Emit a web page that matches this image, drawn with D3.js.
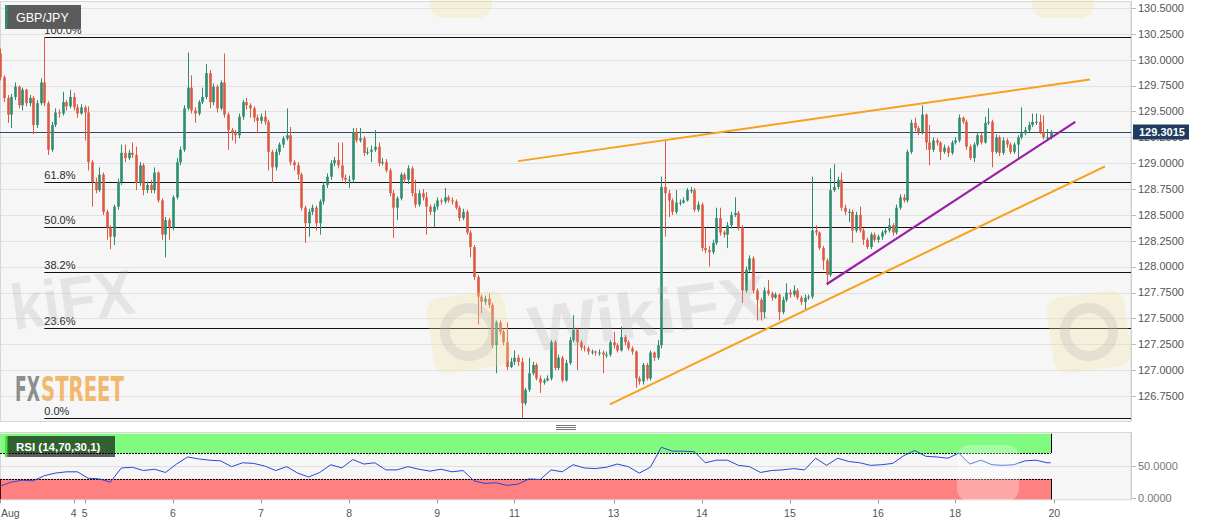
<!DOCTYPE html>
<html><head><meta charset="utf-8">
<script src="https://cdn.jsdelivr.net/npm/d3@7"></script>
<style>body{margin:0;background:#fff}svg{display:block;font-family:Arial,"Liberation Sans",sans-serif}</style>
</head><body><svg id="c" width="1207" height="526"></svg>
<script>
// ---------------- DATA ----------------
const symbol = "GBP/JPY";
const firstOpen = 130.06;
const close = [
129.83,129.63,129.47,129.64,129.74,129.56,129.71,129.58,129.63,129.37,
129.58,129.78,129.58,129.13,129.37,129.49,129.48,129.59,129.55,129.64,
129.54,129.48,129.54,129.49,129.01,128.82,128.74,128.89,128.53,128.38,
128.29,128.58,128.82,129.10,129.05,129.10,129.08,128.81,128.98,128.74,
128.79,128.74,128.91,128.64,128.31,128.45,128.38,128.67,129.01,129.13,
129.53,129.73,129.51,129.48,129.59,129.64,129.87,129.59,129.74,129.53,
129.78,129.47,129.32,129.29,129.27,129.45,129.59,129.56,129.53,129.44,
129.41,129.45,129.40,129.11,128.96,129.11,129.18,129.24,129.27,129.01,
128.98,128.89,128.57,128.42,128.53,128.57,128.42,128.63,128.79,128.87,
129.00,129.03,128.98,128.86,128.84,128.84,129.30,129.22,129.24,129.10,
129.11,129.13,129.16,129.00,129.01,128.93,128.71,128.57,128.66,128.89,
128.84,128.95,128.71,128.60,128.71,128.67,128.58,128.53,128.58,128.64,
128.63,128.67,128.64,128.63,128.57,128.47,128.53,128.33,128.19,127.90,
127.71,127.66,127.69,127.63,127.24,127.46,127.37,127.27,127.03,127.08,
127.12,127.08,126.68,126.81,126.97,127.05,126.92,126.88,126.90,126.92,
127.27,127.02,127.12,126.90,127.07,127.29,127.39,127.27,127.22,127.21,
127.18,127.18,127.17,127.17,127.15,127.15,127.27,127.24,127.19,127.32,
127.27,127.21,127.18,126.92,126.89,127.05,126.92,127.17,127.12,127.24,
128.77,128.71,128.64,128.53,128.62,128.62,128.64,128.74,128.74,128.55,
128.60,128.18,128.16,128.14,128.23,128.47,128.33,128.31,128.40,128.50,
128.52,128.38,127.77,127.97,128.08,127.77,127.68,127.56,127.77,127.74,
127.70,127.73,127.56,127.68,127.75,127.73,127.77,127.70,127.66,127.70,
127.71,128.35,128.33,128.18,128.06,127.92,128.74,128.77,128.84,128.57,
128.53,128.53,128.35,128.50,128.35,128.26,128.19,128.31,128.26,128.29,
128.33,128.35,128.40,128.33,128.57,128.67,128.64,129.11,129.39,129.34,
129.30,129.47,129.20,129.13,129.22,129.20,129.11,129.15,129.10,129.20,
129.22,129.44,129.40,129.16,129.05,129.18,129.27,129.20,129.39,129.40,
129.11,129.25,129.10,129.22,129.18,129.11,129.18,129.25,129.29,129.32,
129.37,129.40,129.40,129.30,129.25,129.25,129.3015];
const high = [
130.11,129.85,129.66,129.67,129.78,129.75,129.73,129.72,129.66,129.65,
129.61,129.82,130.22,129.60,129.40,129.53,129.52,129.69,129.61,129.71,
129.68,129.57,129.57,129.56,129.55,129.03,128.86,128.96,128.91,128.55,
128.40,128.60,128.85,129.18,129.18,129.13,129.20,129.16,129.01,129.00,
128.82,128.84,128.96,128.92,128.66,128.48,128.47,128.69,129.05,129.16,
129.56,130.07,129.85,129.54,129.61,129.73,129.96,129.90,129.77,129.76,
129.80,130.06,129.49,129.34,129.32,129.48,129.61,129.63,129.58,129.55,
129.47,129.48,129.51,129.42,129.13,129.14,129.20,129.26,129.53,129.35,
129.03,129.01,128.91,128.59,128.56,128.60,128.59,128.65,128.82,128.90,
129.03,129.06,129.20,129.20,128.89,128.88,129.34,129.34,129.34,129.26,
129.15,129.17,129.32,129.20,129.05,129.04,128.95,128.74,128.68,128.91,
128.91,128.98,128.97,128.84,128.74,128.75,128.72,128.60,128.61,128.67,
128.66,128.76,128.69,128.67,128.65,128.59,128.56,128.55,128.35,128.21,
127.92,127.73,127.72,127.74,127.65,127.48,127.48,127.39,127.46,127.12,
127.19,127.15,127.12,126.83,127.12,127.08,127.07,126.95,126.92,126.95,
127.29,127.29,127.15,127.14,127.10,127.32,127.53,127.41,127.29,127.24,
127.23,127.20,127.19,127.20,127.19,127.18,127.29,127.37,127.26,127.42,
127.34,127.29,127.23,127.19,126.94,127.07,127.07,127.19,127.18,127.29,
128.87,129.22,128.74,128.66,128.74,128.65,128.67,128.76,128.77,128.76,
128.63,128.62,128.38,128.20,128.26,128.57,128.57,128.35,128.43,128.53,
128.67,128.54,128.40,128.00,128.11,128.10,127.79,127.70,127.80,127.87,
127.76,127.75,127.74,127.71,127.84,127.78,127.82,127.79,127.72,127.73,
127.73,128.87,128.40,128.34,128.20,128.08,128.95,128.99,128.87,128.91,
128.60,128.56,128.55,128.53,128.58,128.37,128.28,128.33,128.33,128.31,
128.35,128.38,128.47,128.42,128.60,128.70,128.70,129.13,129.42,129.44,
129.36,129.56,129.48,129.37,129.25,129.24,129.21,129.18,129.17,129.22,
129.25,129.47,129.45,129.42,129.18,129.20,129.30,129.29,129.45,129.53,
129.42,129.28,129.27,129.25,129.24,129.20,129.20,129.27,129.54,129.35,
129.40,129.48,129.48,129.47,129.46,129.33,129.32];
const low = [
129.80,129.59,129.39,129.34,129.61,129.53,129.51,129.55,129.55,129.28,
129.34,129.56,129.55,129.08,129.11,129.35,129.44,129.46,129.51,129.53,
129.51,129.44,129.47,129.22,128.93,128.58,128.71,128.72,128.50,128.26,
128.17,128.21,128.55,128.79,129.01,129.03,129.05,128.74,128.78,128.69,
128.71,128.71,128.71,128.62,128.26,128.09,128.26,128.35,128.65,128.98,
129.11,129.51,129.48,129.39,129.46,129.57,129.62,129.53,129.56,129.49,
129.51,129.44,129.13,129.22,129.19,129.24,129.42,129.52,129.44,129.40,
129.29,129.38,129.37,128.93,128.81,128.93,129.08,129.15,129.22,128.98,
128.93,128.84,128.54,128.23,128.29,128.50,128.35,128.31,128.60,128.76,
128.84,128.97,128.95,128.83,128.80,128.76,128.81,129.20,129.20,129.07,
129.08,129.01,129.11,128.97,128.98,128.91,128.68,128.28,128.45,128.64,
128.81,128.80,128.68,128.57,128.58,128.64,128.31,128.50,128.38,128.55,
128.60,128.61,128.62,128.60,128.55,128.44,128.45,128.31,128.09,127.87,
127.44,127.55,127.63,127.60,127.21,126.97,127.34,127.24,127.00,127.02,
127.05,127.04,126.54,126.66,126.79,126.95,126.90,126.78,126.86,126.89,
126.90,127.00,127.00,126.88,126.89,127.05,127.27,127.00,127.19,127.18,
127.15,127.15,127.14,127.14,126.97,127.12,127.13,127.21,127.17,127.18,
127.24,127.19,127.15,126.83,126.86,126.86,126.90,126.90,127.09,127.10,
127.21,128.29,128.48,128.50,128.51,128.59,128.61,128.63,128.71,128.53,
128.53,128.15,128.13,128.00,128.12,128.21,128.30,128.28,128.18,128.37,
128.48,128.35,127.65,127.75,127.95,127.74,127.48,127.48,127.50,127.72,
127.67,127.69,127.48,127.54,127.66,127.70,127.71,127.68,127.63,127.58,
127.68,127.69,128.30,128.16,127.97,127.82,127.90,128.72,128.75,128.54,
128.50,128.43,128.23,128.33,128.33,128.21,128.17,128.17,128.24,128.23,
128.26,128.31,128.33,128.30,128.31,128.55,128.62,128.62,129.09,129.31,
129.27,129.28,129.13,128.98,129.11,129.17,129.03,129.09,129.06,129.08,
129.18,129.20,129.38,129.13,129.03,129.01,129.16,129.18,129.19,129.37,
128.96,129.09,129.07,129.08,129.15,129.09,129.09,129.05,129.23,129.27,
129.30,129.35,129.37,129.28,129.23,129.22,129.23];

const dayTickIndex = [0,20,23,47,71,95,119,140,167,191,215,239,260,287];
const dayLabels = ["Aug","4","5","6","7","8","9","11","13","14","15","16","18","20"];
const priceTicks = [126.75,127.0,127.25,127.5,127.75,128.0,128.25,128.5,128.75,129.0,129.25,129.5,129.75,130.0,130.25,130.5];
const fibHigh = 130.22, fibLow = 126.54, fibStartIndex = 12;
const fibRatios = [1, 0.618, 0.5, 0.382, 0.236, 0];
const fibLabels = ["100.0%","61.8%","50.0%","38.2%","23.6%","0.0%"];
const lastPrice = 129.3015;
const upperTrend = [[141, 129.02],[296.7, 129.81]];
const lowerTrend = [[166, 126.67],[300.8, 128.97]];
const purpleTrend = [[225, 127.83],[292.7, 129.40]];
const rsiIndex = [0,3,6,9,12,15,18,21,24,27,30,33,36,39,42,45,48,51,54,57,60,63,66,69,72,75,78,81,84,87,90,93,96,99,102,105,108,111,114,117,120,123,126,129,132,135,138,141,144,147,150,153,156,159,162,165,168,171,174,177,180,183,186,189,192,195,198,201,204,207,210,213,216,219,222,225,228,231,234,237,240,243,246,249,252,255,258,261,264,267,270,273,276,279,282,285,286];
const rsiValue = [19,25,28,27,35,39,41,41,31,30, 25,47,48,43,45,40,53,64,61,59, 58,49,55,54,50,43,49,39,33,40, 52,47,60,53,55,44,44,49,45,42, 45,41,43,27,23,24,20,22,30,29, 44,41,52,47,46,48,53,49,39,48, 79,73,73,72,55,59,59,51,49,40, 43,44,46,44,62,51,62,57,55,51, 52,54,66,74,65,64,62,70,53,59, 52,51,52,58,59,55,55];
const rsiTicks = [0, 50];
const rsiLevels = [70, 30];
const rsiLabel = "RSI (14,70,30,1)";
const brandParts = ["FX", "STREET"];
const watermarkLeft = "kiFX", watermarkMain = "WikiFX";

// ---------------- DRAW ----------------
const svg = d3.select("#c");
const W = 1207, H = 526, PR = 1131, PT = 1, PB = 421, RT = 432, RB = 499.3;
const G = "#2b8c6e", R = "#dc5a43";
const x = d3.scaleLinear().domain([0, 287]).range([0.2, 1054.35]);
const y = d3.scaleLinear().domain([126.75, 130.5]).range([396, 8]);
const yr = d3.scaleLinear().domain([0, 100]).range([498.3, 433.7]);
const snap = v => Math.round(v) + 0.5;

svg.append("rect").attr("width", W).attr("height", H).attr("fill", "#fff");
const defs = svg.append("defs");
defs.append("clipPath").attr("id", "clipMain").append("rect").attr("x", 0).attr("y", PT).attr("width", PR).attr("height", PB - PT);

// main panel
svg.append("rect").attr("x", 0.5).attr("y", PT + 0.5).attr("width", PR - 0.5).attr("height", PB - PT)
  .attr("fill", "#f6f6f6").attr("stroke", "#d6d6d6");
svg.append("g").selectAll("line").data(priceTicks).join("line")
  .attr("x1", 1).attr("x2", PR).attr("y1", d => snap(y(d))).attr("y2", d => snap(y(d)))
  .attr("stroke", "#e2e2e2");

// fib levels
const fibG = svg.append("g");
fibRatios.forEach((r, k) => {
  const v = fibLow + r * (fibHigh - fibLow);
  const yy = snap(y(v));
  fibG.append("line").attr("x1", x(fibStartIndex)).attr("x2", PR).attr("y1", yy).attr("y2", yy)
    .attr("stroke", "#111").attr("stroke-width", 1);
  fibG.append("text").attr("x", x(fibStartIndex)).attr("y", yy - 3.5).attr("font-size", 11)
    .attr("fill", "#2a2a2a").text(fibLabels[k]);
});

// FXStreet logo: size each word so its natural width fits, stretch vertically
const brandFont = "'DejaVu Sans Condensed','Liberation Sans Narrow',Roboto,Arial";
function brandWord(str, x0, targetW, color) {
  const t = svg.append("text").attr("x", 0).attr("y", 0).attr("font-family", brandFont)
    .attr("font-weight", "bold").attr("font-size", 20).attr("fill", color).text(str);
  const w = t.node().getComputedTextLength();
  const fs = 20 * targetW / w;
  t.attr("font-size", fs);
  const k = 34 / fs; // gives ~25px cap height
  t.attr("transform", `translate(${x0},401) scale(1,${k})`);
}
brandWord(brandParts[0], 15, 25, "#8d8d8d");
brandWord(brandParts[1], 41, 83, "#f2b86e");

// current price line
svg.append("line").attr("x1", 0).attr("x2", PR).attr("y1", snap(y(lastPrice))).attr("y2", snap(y(lastPrice)))
  .attr("stroke", "#2d4a6b").attr("stroke-width", 1);

// candles
const candles = close.map((c, i) => {
  const o = i === 0 ? firstOpen : close[i - 1];
  return { i, o, c, h: Math.max(high[i], o, c), l: Math.min(low[i], o, c) };
});
const cg = svg.append("g").attr("clip-path", "url(#clipMain)");
cg.selectAll("line.w").data(candles).join("line").attr("class", "w")
  .attr("x1", d => Math.round(x(d.i)) + 0.5).attr("x2", d => Math.round(x(d.i)) + 0.5)
  .attr("y1", d => y(d.h)).attr("y2", d => y(d.l))
  .attr("stroke", d => d.c >= d.o ? G : R).attr("stroke-width", 1);
cg.selectAll("rect.b").data(candles).join("rect").attr("class", "b")
  .attr("x", d => Math.round(x(d.i)) - 0.8).attr("width", 2.6)
  .attr("y", d => y(Math.max(d.o, d.c)))
  .attr("height", d => Math.max(1, Math.abs(y(d.o) - y(d.c))))
  .attr("fill", d => d.c >= d.o ? G : R);

// trend lines
const tl = d3.line().x(d => x(d[0])).y(d => y(d[1]));
const tg = svg.append("g").attr("clip-path", "url(#clipMain)");
tg.append("path").attr("d", tl(upperTrend)).attr("stroke", "#f7a11c").attr("stroke-width", 2).attr("fill", "none");
tg.append("path").attr("d", tl(lowerTrend)).attr("stroke", "#f7a11c").attr("stroke-width", 2).attr("fill", "none");
tg.append("path").attr("d", tl(purpleTrend)).attr("stroke", "#9a1ea6").attr("stroke-width", 2.2).attr("fill", "none");

// faint WikiFX watermarks
const wm = svg.append("g").attr("pointer-events", "none");
function logo(lx, ly, rot) {
  const g = wm.append("g").attr("transform", `rotate(${rot} ${lx + 39} ${ly + 38})`);
  g.append("rect").attr("x", lx).attr("y", ly).attr("width", 78).attr("height", 76).attr("rx", 14)
    .attr("fill", "#f3e0a0").attr("opacity", 0.3);
  g.append("circle").attr("cx", lx + 39).attr("cy", ly + 38).attr("r", 24).attr("fill", "none")
    .attr("stroke", "#b8b8b8").attr("stroke-width", 10).attr("opacity", 0.28);
}
function wmText(tx, ty, str, len) {
  wm.append("text").attr("transform", `rotate(-8 ${tx} ${ty})`).attr("x", tx).attr("y", ty)
    .attr("font-size", 64).attr("font-weight", "bold").attr("fill", "#a8a8a8").attr("opacity", 0.22)
    .attr("textLength", len).attr("lengthAdjust", "spacingAndGlyphs").text(str);
}
logo(430, 294, -8);
logo(1050, 294, -8);
wmText(532, 352, watermarkMain, 240);
wmText(14, 330, watermarkLeft, 124);
[[430, -58], [1032, -58]].forEach(p => wm.append("rect").attr("x", p[0]).attr("y", p[1]).attr("width", 62).attr("height", 76)
  .attr("rx", 14).attr("fill", "#f3e0a0").attr("opacity", 0.3));

// symbol label
svg.append("rect").attr("x", 5).attr("y", 5).attr("width", 76).attr("height", 24).attr("fill", "#5b5b5b");
svg.append("rect").attr("x", 5).attr("y", 5).attr("width", 2.5).attr("height", 24).attr("fill", "#2e8f70");
svg.append("text").attr("x", 16).attr("y", 22).attr("font-size", 12.5).attr("fill", "#fff").text(symbol);

// right axis (main)
const ax = svg.append("g");
ax.append("line").attr("x1", PR + 0.5).attr("x2", PR + 0.5).attr("y1", PT).attr("y2", PB).attr("stroke", "#cfcfcf");
priceTicks.forEach(t => {
  ax.append("line").attr("x1", PR).attr("x2", PR + 5).attr("y1", snap(y(t))).attr("y2", snap(y(t))).attr("stroke", "#bdbdbd");
  ax.append("text").attr("x", 1138).attr("y", y(t) + 3.8).attr("font-size", 11).attr("fill", "#555").text(t.toFixed(4));
});
svg.append("rect").attr("x", 1133).attr("y", y(lastPrice) - 7.5).attr("width", 56).attr("height", 15).attr("fill", "#1f3c5e");
svg.append("text").attr("x", 1139).attr("y", y(lastPrice) + 4).attr("font-size", 11).attr("font-weight", "bold")
  .attr("fill", "#fff").text(lastPrice.toFixed(4));

// panel splitter
[425.5, 427.5, 429.5].forEach(v => svg.append("line").attr("x1", 556).attr("x2", 576).attr("y1", v).attr("y2", v).attr("stroke", "#777"));

// RSI panel
svg.append("rect").attr("x", 0.5).attr("y", RT + 0.5).attr("width", PR - 0.5).attr("height", RB - RT)
  .attr("fill", "#f6f6f6").attr("stroke", "#d6d6d6");
svg.append("line").attr("x1", 1).attr("x2", PR).attr("y1", snap(yr(50))).attr("y2", snap(yr(50))).attr("stroke", "#e0e0e0");
const xEnd = x(close.length - 1);
svg.append("rect").attr("x", 0.5).attr("y", yr(100)).attr("width", xEnd).attr("height", yr(70) - yr(100)).attr("fill", "#80fb80");
svg.append("rect").attr("x", 0.5).attr("y", yr(30)).attr("width", xEnd).attr("height", RB - yr(30)).attr("fill", "#ff8080");
rsiLevels.forEach(v => svg.append("line").attr("x1", 0).attr("x2", xEnd).attr("y1", snap(yr(v))).attr("y2", snap(yr(v)))
  .attr("stroke", "#000").attr("stroke-dasharray", "2,1"));
svg.append("line").attr("x1", snap(xEnd)).attr("x2", snap(xEnd)).attr("y1", yr(100)).attr("y2", yr(70)).attr("stroke", "#000");
svg.append("line").attr("x1", snap(xEnd)).attr("x2", snap(xEnd)).attr("y1", yr(30)).attr("y2", RB).attr("stroke", "#000");
svg.append("line").attr("x1", 0.5).attr("x2", 0.5).attr("y1", yr(30)).attr("y2", RB).attr("stroke", "#500");
const rsiPts = rsiIndex.map((d, k) => [d, rsiValue[k]]);
svg.append("path").attr("d", d3.line().x(d => x(d[0])).y(d => yr(d[1]))(rsiPts))
  .attr("fill", "none").attr("stroke", "#2b47d4").attr("stroke-width", 1);
svg.append("rect").attr("x", 957).attr("y", 445).attr("width", 62).attr("height", 56).attr("rx", 12).attr("fill", "#fff").attr("opacity", 0.3);
svg.append("rect").attr("x", 5).attr("y", 436).attr("width", 110).attr("height", 21).attr("fill", "rgba(0,0,0,0.62)");
svg.append("rect").attr("x", 5).attr("y", 436).attr("width", 2.5).attr("height", 21).attr("fill", "#3ee63e");
svg.append("text").attr("x", 16).attr("y", 451).attr("font-size", 11.5).attr("font-weight", "bold").attr("fill", "#fff").text(rsiLabel);
svg.append("line").attr("x1", PR + 0.5).attr("x2", PR + 0.5).attr("y1", RT).attr("y2", RB).attr("stroke", "#cfcfcf");
rsiTicks.forEach(t => {
  svg.append("line").attr("x1", PR).attr("x2", PR + 5).attr("y1", snap(yr(t))).attr("y2", snap(yr(t))).attr("stroke", "#bdbdbd");
  svg.append("text").attr("x", 1138).attr("y", yr(t) + 3.8).attr("font-size", 11).attr("fill", "#777").text(t.toFixed(4));
});

// x axis
dayTickIndex.forEach((t, k) => {
  const xx = snap(x(t));
  svg.append("line").attr("x1", xx).attr("x2", xx).attr("y1", RB + 0.5).attr("y2", RB + 4).attr("stroke", "#999");
  svg.append("text").attr("x", k === 0 ? 1 : x(t)).attr("y", 516.5).attr("font-size", 10.5)
    .attr("text-anchor", k === 0 ? "start" : "middle").attr("fill", "#555").text(dayLabels[k]);
});
</script></body></html>
